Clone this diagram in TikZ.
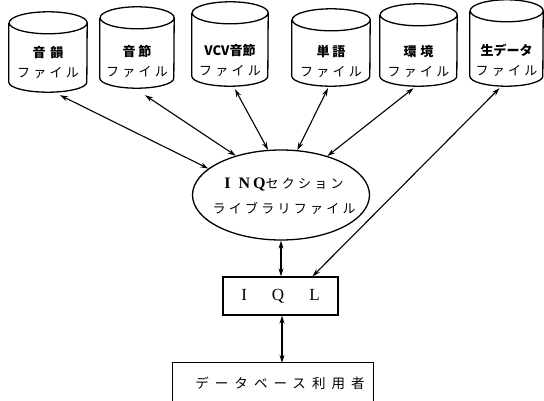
\documentclass[tikz,border=0pt]{standalone}
\usepackage{fontspec}
\setmainfont{Liberation Serif}
\newfontfamily\jp{Noto Sans CJK JP}
\newfontfamily\jps{Noto Sans CJK JP}[LetterSpace=25]
\newfontfamily\jpw{Noto Sans CJK JP}[LetterSpace=45]
\usetikzlibrary{shapes.geometric,arrows.meta,calc}
\newcommand\cyldraw[5]{%
  \node[minimum width=#4pt, minimum height=#5pt, inner sep=0pt] (#1) at (#2,#3) {};
  \draw[cylline] ([yshift=-11pt]#1.north west) -- ([yshift=10pt]#1.south west)
    arc[start angle=180,end angle=360,x radius=#4pt/2,y radius=10pt]
    -- ([yshift=-11pt]#1.north east)
    arc[start angle=0,end angle=360,x radius=#4pt/2,y radius=11pt];
}
\begin{document}
\begin{tikzpicture}[x=1pt,y=-1pt,
  cylline/.style={line width=1.3pt},
  lbl/.style={align=center, inner sep=0pt, font=\jp\fontsize{13}{20}\selectfont},
  link/.style={{Stealth[length=8pt,width=5pt]}-{Stealth[length=8pt,width=5pt]}, line width=1.1pt}]
\useasboundingbox (0,0) rectangle (544,401);
% cylinders
\cyldraw{c1}{48}{52}{78}{80}
\cyldraw{c2}{137}{47.5}{74}{81}
\cyldraw{c3}{230}{44}{76}{84}
\cyldraw{c4}{331}{47.5}{78}{77}
\cyldraw{c5}{418.5}{45}{77}{82}
\cyldraw{c6}{506.5}{43}{73}{86}
% cylinder labels
\node[lbl] (t1) at (48,62) {\bfseries 音\hspace{5pt}韻\\{\jps ファイル}};
\node[lbl] (t2) at (137,61) {\bfseries 音\hspace{3pt}節\\{\jps ファイル}};
\node[lbl] (t3) at (230,60) {\bfseries {\sffamily\jp VCV}音節\\{\jps ファイル}};
\node[lbl] (t4) at (331,61) {\bfseries 単\hspace{3pt}語\\{\jps ファイル}};
\node[lbl] (t5) at (418.5,61) {\bfseries 環\hspace{4pt}境\\{\jps ファイル}};
\node[lbl] (t6) at (506.5,60) {\bfseries 生データ\\{\jps ファイル}};
% ellipse
\node[ellipse, draw, line width=1.3pt, minimum width=177pt, minimum height=90pt, inner sep=0pt] (inq) at (281,195) {};
\node[lbl, font=\jp\fontsize{13}{25}\selectfont] (inqt) at (284,196)
  {{\rmfamily\bfseries\fontsize{16}{20}\selectfont I\hspace{8pt}N\hspace{3pt}Q}{\jps セクション}\\{\jps ライブラリファイル}};
% IQL box
\node[draw, line width=1.3pt, minimum width=115pt, minimum height=38pt, inner sep=0pt,
  font=\rmfamily\fontsize{17}{20}\selectfont] (iql) at (280.5,296) {I\hspace{25pt}Q\hspace{25pt}L};
% user box (bottom edge cut off)
\node[minimum width=200pt, minimum height=38pt, inner sep=0pt] (user) at (273,382) {};
\draw[line width=1.3pt] (user.south west) -- (user.north west) -- (user.north east) -- (user.south east);
\node[lbl, font=\jpw\fontsize{13.5}{16}\selectfont] (usert) at (280,383) {データベース利用者};
% connectors
\draw[link] ([xshift=12pt,yshift=-3pt]c1.south) -- (inq.160);
\draw[link] ([xshift=8pt,yshift=-7pt]c2.south) -- (inq.139);
\draw[link] ([xshift=5pt,yshift=-3pt]c3.south) -- (inq.106);
\draw[link] ([xshift=-3pt,yshift=-2pt]c4.south) -- (inq.70);
\draw[link] ([xshift=-5pt,yshift=-2pt]c5.south) -- (inq.40);
\draw[link] ([xshift=-7pt,yshift=-2pt]c6.south) -- ([xshift=32pt]iql.north);
\draw[link] (inq.south) -- (inq.south |- iql.north);
\draw[link] ([xshift=1.5pt]iql.south) -- ([xshift=1.5pt]iql.south |- user.north);
\end{tikzpicture}
\end{document}
